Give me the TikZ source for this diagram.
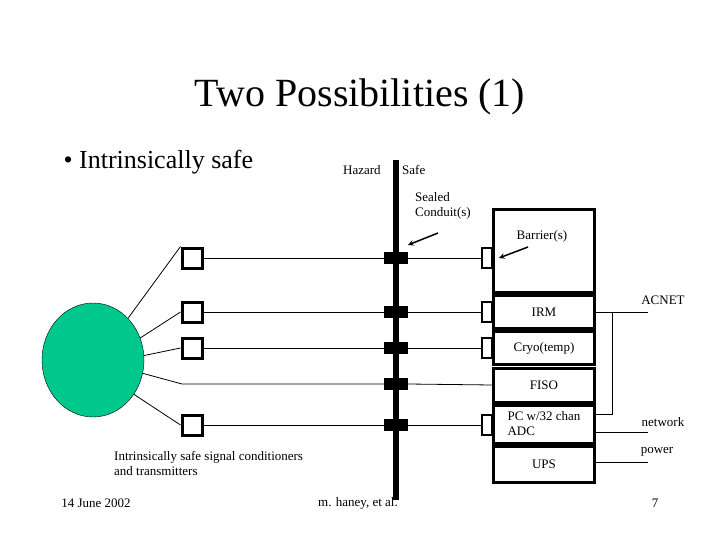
\documentclass[tikz,border=0pt]{standalone}
\usepackage{fontspec}
\usetikzlibrary{shapes.geometric}
\setmainfont{Liberation Serif}
\definecolor{blobgreen}{RGB}{0,200,140}
\begin{document}
\begin{tikzpicture}[x=1pt,y=-1pt,
  sq/.style={draw,line width=3pt,minimum size=20pt,inner sep=0pt},
  blk/.style={fill=black,minimum width=24pt,minimum height=12pt,inner sep=0pt},
  bar/.style={draw,line width=2.5pt,minimum width=10pt,minimum height=20pt,inner sep=0pt},
  sec/.style={draw,line width=3pt,minimum width=101pt,inner sep=0pt},
  lab/.style={font=\fontsize{13}{15}\selectfont,inner sep=0pt},
  wire/.style={line width=0.8pt}]
\useasboundingbox (0,0) rectangle (720,540);
\node[font=\fontsize{40}{44}\selectfont] (title) at (360,97) {Two Possibilities (1)};
\node[font=\fontsize{26}{30}\selectfont,anchor=west] (bul) at (60,162) {\textbullet\ Intrinsically safe};
\node[lab,anchor=west] (haz) at (343,170) {Hazard};
\node[lab,anchor=west] (safe) at (402,170) {Safe};
\node[lab,anchor=north west,align=left] (sc) at (415,192) {Sealed\\Conduit(s)};
\node[lab] (barl) at (542,236) {Barrier(s)};
% vertical barrier wall
\coordinate (wt) at (396,160); \coordinate (wb) at (396,500);
\draw[line width=6pt] (wt) -- (wb);
% ellipse
\node[draw,fill=blobgreen,ellipse,minimum width=102pt,minimum height=114pt,inner sep=0pt] (el) at (93,360) {};
% squares
\node[sq] (s1) at (192,258) {};
\node[sq] (s2) at (192,312) {};
\node[sq] (s3) at (192,348) {};
\node[sq] (s5) at (192,425) {};
\coordinate (s4) at (182,384);
% blocks on wall
\foreach \i/\y in {1/258,2/312,3/348,4/384,5/425}{\node[blk] (b\i) at (396,\y) {};}
% sections
\node[sec,minimum height=82pt] (top) at (544,251) {};
\node[sec,minimum height=33pt,lab] (irm) at (544,312) {IRM};
\node[sec,minimum height=33pt,lab] (cryo) at (544,348) {Cryo(temp)};
\node[sec,minimum height=34pt,lab] (fiso) at (544,385) {FISO};
\node[sec,minimum height=38pt,lab,align=left] (pc) at (544,424) {PC w/32 chan\\ADC};
\node[sec,minimum height=36pt,lab] (ups) at (544,464) {UPS};
% barriers
\node[bar] (r1) at (487,258) {};
\node[bar] (r2) at (487,312) {};
\node[bar] (r3) at (487,348) {};
\node[bar] (r5) at (487,425) {};
% wires from ellipse
\draw[wire] (el.50) -- (s1.north west);
\draw[wire] (el.25) -- (s2.west);
\draw[wire] (el.5) -- (s3.west);
\draw[wire] (el.-15) -- (s4) -- (b4.west);
\draw[wire] (el.-40) -- (s5.west);
\foreach \i in {1,2,3,5}{\draw[wire] (s\i.east) -- (b\i.west); \draw[wire] (b\i.east) -- (r\i.west);}
\draw[wire] (b4.east) -- (fiso.west);
% arrows
\coordinate (a1s) at (438,233); \coordinate (a1e) at (408,245);
\draw[line width=1.5pt,-stealth] (a1s) -- (a1e);
\coordinate (a2s) at (528,247); \coordinate (a2e) at (499,258);
\draw[line width=1.5pt,-stealth] (a2s) -- (a2e);
% right side
\coordinate (ac) at (648,312); \coordinate (j1) at (612,312); \coordinate (j2) at (612,414);
\draw[wire] (irm.east) -- (ac);
\draw[wire] (j1) -- (j2) -- (pc.east |- j2);
\coordinate (nw) at (648,432); \coordinate (pw) at (648,462);
\draw[wire] (pc.east |- nw) -- (nw);
\draw[wire] (ups.east |- pw) -- (pw);
\node[lab] (acl) at (663,300) {ACNET};
\node[lab] (nwl) at (663,422) {network};
\node[lab] (pwl) at (657,452) {power};
\node[lab,anchor=north west,align=left] (isc) at (114,451) {Intrinsically safe signal conditioners\\and transmitters};
\node[lab] (f1) at (96,503) {14 June 2002};
\node[lab] (f2) at (358,503) {m. haney, et al.};
\node[lab] (f3) at (655,503) {7};
\end{tikzpicture}
\end{document}
